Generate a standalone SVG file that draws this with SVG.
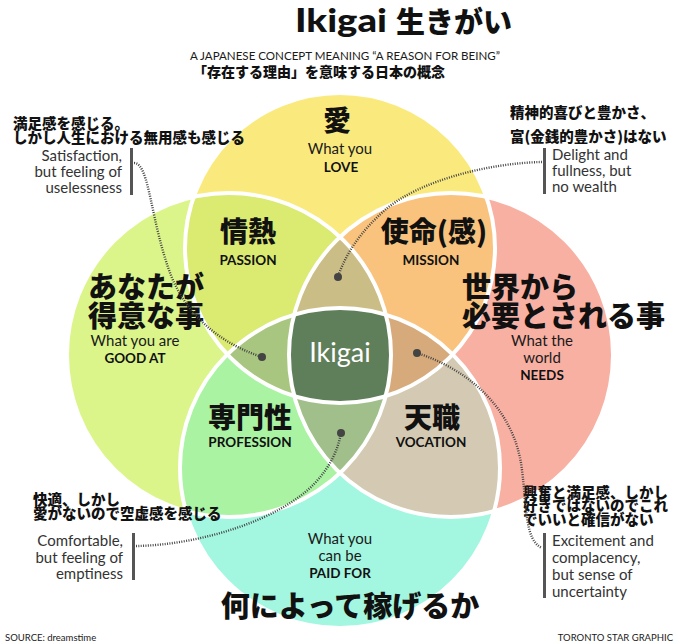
<svg xmlns="http://www.w3.org/2000/svg" width="680" height="643" viewBox="0 0 680 643">
<style>
.en{font-family:Lato,"Open Sans","Liberation Sans",sans-serif;fill:#1a1a1a}
.enb{font-family:Lato,"Open Sans","Liberation Sans",sans-serif;font-weight:700;fill:#111}
.jp{font-family:"Noto Sans CJK JP","Noto Sans CJK SC",sans-serif;font-weight:900;fill:#111}
.big{font-size:28px}
.lbl{font-size:15px}
.lblb{font-size:13.5px}
.call{font-size:14.5px}
.note{font-size:15px;fill:#333}
.bar{fill:#555}
.conn{fill:none;stroke:#444;stroke-width:2.4;stroke-dasharray:1 1.4}
.dot{fill:#444}
.ring{fill:none;stroke:#fff;stroke-width:4}
</style>
<defs>
<clipPath id="cT"><circle cx="340" cy="248" r="155"/></clipPath>
<clipPath id="cB"><circle cx="340" cy="468" r="160"/></clipPath>
<clipPath id="cL"><circle cx="229" cy="355" r="162"/></clipPath>
<clipPath id="cR"><circle cx="451" cy="355" r="162"/></clipPath>
</defs>
<rect width="680" height="643" fill="#fff"/>

<g id="title">
<text x="295" y="32" font-family="Lato,'Open Sans',sans-serif" font-weight="900" fill="#111" font-size="33" textLength="92" lengthAdjust="spacingAndGlyphs">Ikigai</text>
<text class="jp" x="396" y="33" font-size="29">生きがい</text>
<text class="en" x="345" y="60" font-size="11" text-anchor="middle" textLength="310" lengthAdjust="spacingAndGlyphs">A JAPANESE CONCEPT MEANING “A REASON FOR BEING”</text>
<text class="jp" x="193" y="77" font-size="14">「存在する理由」を意味する日本の概念</text>
</g>

<g id="circles">
<circle cx="229" cy="355" r="162" fill="#DBF58B"/>
<circle cx="451" cy="355" r="162" fill="#F8B0A3"/>
<circle cx="340" cy="468" r="160" fill="#A3F6DF"/>
<circle cx="340" cy="248" r="155" fill="#FAEA7E"/>
<g clip-path="url(#cT)"><circle cx="229" cy="355" r="162" fill="#DBEA70"/></g>
<g clip-path="url(#cT)"><circle cx="451" cy="355" r="162" fill="#F9C37D"/></g>
<g clip-path="url(#cB)"><circle cx="229" cy="355" r="162" fill="#A9F3A3"/></g>
<g clip-path="url(#cB)"><circle cx="451" cy="355" r="162" fill="#D4CAB3"/></g>
<g clip-path="url(#cT)"><g clip-path="url(#cL)"><circle cx="451" cy="355" r="162" fill="#CBBD86"/></g></g>
<g clip-path="url(#cT)"><g clip-path="url(#cL)"><circle cx="340" cy="468" r="160" fill="#A8C67F"/></g></g>
<g clip-path="url(#cT)"><g clip-path="url(#cR)"><circle cx="340" cy="468" r="160" fill="#D6AA7B"/></g></g>
<g clip-path="url(#cB)"><g clip-path="url(#cL)"><circle cx="451" cy="355" r="162" fill="#A1BF8A"/></g></g>
<g clip-path="url(#cT)"><g clip-path="url(#cL)"><g clip-path="url(#cR)"><circle cx="340" cy="468" r="160" fill="#5F7E5A"/></g></g></g>
<circle class="ring" cx="229" cy="355" r="162"/>
<circle class="ring" cx="451" cy="355" r="162"/>
<circle class="ring" cx="340" cy="468" r="160"/>
<circle class="ring" cx="340" cy="248" r="155"/>
</g>

<g id="love">
<text class="jp" x="337" y="131" font-size="28" text-anchor="middle">愛</text>
<text class="en lbl" x="340" y="154" text-anchor="middle">What you</text>
<text class="enb lblb" x="341" y="172" text-anchor="middle">LOVE</text>
</g>
<g id="passion">
<text class="jp big" x="248" y="242" text-anchor="middle">情熱</text>
<text class="enb lblb" x="248" y="265" text-anchor="middle">PASSION</text>
</g>
<g id="mission">
<text class="jp big" x="434" y="242" text-anchor="middle">使命(感)</text>
<text class="enb lblb" x="431" y="265" text-anchor="middle">MISSION</text>
</g>
<g id="goodat">
<text class="jp" x="88" y="298" font-size="29">あなたが</text>
<text class="jp" x="88" y="327" font-size="29">得意な事</text>
<text class="en lbl" x="135" y="346" text-anchor="middle">What you are</text>
<text class="enb lblb" x="135" y="363" text-anchor="middle">GOOD AT</text>
</g>
<g id="needs">
<text class="jp" x="462" y="298" font-size="29">世界から</text>
<text class="jp" x="462" y="327" font-size="29">必要とされる事</text>
<text class="en lbl" x="542" y="346" text-anchor="middle">What the</text>
<text class="en lbl" x="542" y="363" text-anchor="middle">world</text>
<text class="enb lblb" x="542" y="380" text-anchor="middle">NEEDS</text>
</g>
<g id="ikigai">
<text x="340" y="362" font-family="Lato,'Open Sans',sans-serif" font-size="27" fill="#fff" text-anchor="middle">Ikigai</text>
</g>
<g id="profession">
<text class="jp big" x="250" y="428" text-anchor="middle">専門性</text>
<text class="enb lblb" x="250" y="447" text-anchor="middle">PROFESSION</text>
</g>
<g id="vocation">
<text class="jp big" x="432" y="428" text-anchor="middle">天職</text>
<text class="enb lblb" x="431" y="447" text-anchor="middle">VOCATION</text>
</g>
<g id="paidfor">
<text class="en lbl" x="340" y="544" text-anchor="middle">What you</text>
<text class="en lbl" x="340" y="561" text-anchor="middle">can be</text>
<text class="enb lblb" x="340" y="578" text-anchor="middle">PAID FOR</text>
<text class="jp" x="350" y="617" font-size="29" text-anchor="middle">何によって稼げるか</text>
</g>

<g id="note-tl">
<text class="jp call" x="13" y="129">満足感を感じる。</text>
<text class="jp call" x="13" y="143">しかし人生における無用感も感じる</text>
<rect class="bar" x="130" y="148" width="3" height="47"/>
<text class="en note" x="122" y="161" text-anchor="end">Satisfaction,</text>
<text class="en note" x="122" y="177" text-anchor="end">but feeling of</text>
<text class="en note" x="122" y="193" text-anchor="end">uselessness</text>
</g>
<g id="note-tr">
<text class="jp call" x="510" y="118">精神的喜びと豊かさ、</text>
<text class="jp call" x="510" y="142">富(金銭的豊かさ)はない</text>
<rect class="bar" x="543" y="148" width="3" height="46"/>
<text class="en note" x="552" y="160">Delight and</text>
<text class="en note" x="552" y="176">fullness, but</text>
<text class="en note" x="552" y="192">no wealth</text>
</g>
<g id="note-bl">
<text class="jp call" x="33" y="505">快適、しかし</text>
<text class="jp call" x="33" y="519">愛がないので空虚感を感じる</text>
<rect class="bar" x="132" y="533" width="3" height="47"/>
<text class="en note" x="123" y="546" text-anchor="end">Comfortable,</text>
<text class="en note" x="123" y="563" text-anchor="end">but feeling of</text>
<text class="en note" x="123" y="579" text-anchor="end">emptiness</text>
</g>
<g id="note-br">
<text class="jp call" x="523" y="498">興奮と満足感、しかし</text>
<text class="jp call" x="523" y="511">好きではないのでこれ</text>
<text class="jp call" x="523" y="525">でいいと確信がない</text>
<rect class="bar" x="543" y="533" width="3" height="65"/>
<text class="en note" x="552" y="546">Excitement and</text>
<text class="en note" x="552" y="563">complacency,</text>
<text class="en note" x="552" y="580">but sense of</text>
<text class="en note" x="552" y="597">uncertainty</text>
</g>

<g id="connectors">
<path class="conn" d="M134 163 C150 163 150 222 172 278 C190 320 225 345 262 357"/>
<circle class="dot" cx="262" cy="357" r="4"/>
<path class="conn" d="M542 162 C490 163 420 180 385 210 C360 232 345 255 338 277"/>
<circle class="dot" cx="338" cy="277" r="4"/>
<path class="conn" d="M136 546 C200 545 280 520 315 483 C330 467 338 450 341 433"/>
<circle class="dot" cx="341" cy="433" r="4"/>
<path class="conn" d="M417 353 C470 370 515 410 522 470 C527 510 525 540 542 548"/>
<circle class="dot" cx="417" cy="353" r="4"/>
</g>

<g id="footer">
<text class="en" x="5" y="641" font-size="9.5">SOURCE: dreamstime</text>
<text class="en" x="673" y="641" font-size="9.5" text-anchor="end">TORONTO STAR GRAPHIC</text>
</g>
</svg>
